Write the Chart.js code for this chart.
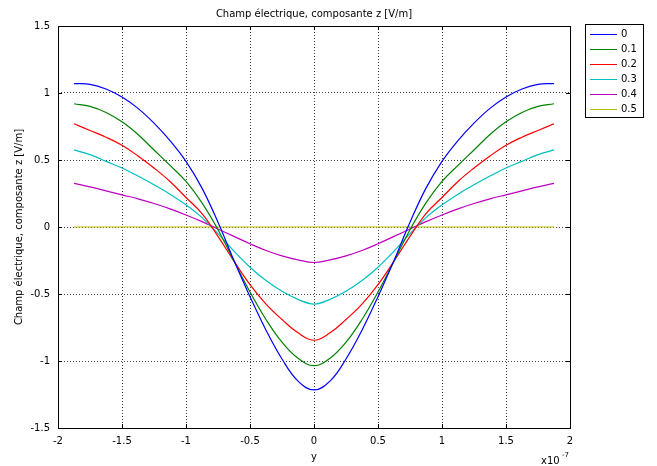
<!DOCTYPE html>
<html>
<head>
<meta charset="utf-8">
<script src="https://cdn.jsdelivr.net/npm/chart.js@4"></script>
<style>
  html, body { margin: 0; padding: 0; background: #fff; }
</style>
</head>
<body>
<canvas id="chartCanvas" width="657" height="466"></canvas>
<script>
// positions y (x10^-7)
const yPos = [-1.875, -1.75, -1.625, -1.5, -1.375, -1.25, -1.125, -1, -0.875, -0.75, -0.625, -0.5, -0.375, -0.25, -0.125, 0,
              0.125, 0.25, 0.375, 0.5, 0.625, 0.75, 0.875, 1, 1.125, 1.25, 1.375, 1.5, 1.625, 1.75, 1.875];

const ez0  = [1.07, 1.065, 1.03, 0.97, 0.885, 0.775, 0.645, 0.49, 0.29, 0.035, -0.25, -0.52, -0.77, -0.985, -1.15, -1.216,
              -1.15, -0.985, -0.77, -0.52, -0.25, 0.035, 0.29, 0.49, 0.645, 0.775, 0.885, 0.97, 1.03, 1.065, 1.07];
const ez01 = [0.92, 0.90, 0.855, 0.785, 0.69, 0.575, 0.46, 0.34, 0.18, -0.02, -0.255, -0.485, -0.69, -0.86, -0.98, -1.035,
              -0.98, -0.86, -0.69, -0.485, -0.255, -0.02, 0.18, 0.34, 0.46, 0.575, 0.69, 0.785, 0.855, 0.90, 0.92];
const ez02 = [0.77, 0.72, 0.67, 0.61, 0.53, 0.44, 0.34, 0.22, 0.10, -0.07, -0.255, -0.43, -0.575, -0.69, -0.79, -0.845,
              -0.79, -0.69, -0.575, -0.43, -0.255, -0.07, 0.10, 0.22, 0.34, 0.44, 0.53, 0.61, 0.67, 0.72, 0.77];
const ez03 = [0.575, 0.54, 0.49, 0.44, 0.38, 0.315, 0.245, 0.165, 0.07, -0.05, -0.18, -0.30, -0.40, -0.48, -0.54, -0.575,
              -0.54, -0.48, -0.40, -0.30, -0.18, -0.05, 0.07, 0.165, 0.245, 0.315, 0.38, 0.44, 0.49, 0.54, 0.575];
const ez04 = [0.325, 0.30, 0.27, 0.24, 0.21, 0.175, 0.135, 0.09, 0.04, -0.015, -0.07, -0.125, -0.175, -0.215, -0.245, -0.265,
              -0.245, -0.215, -0.175, -0.125, -0.07, -0.015, 0.04, 0.09, 0.135, 0.175, 0.21, 0.24, 0.27, 0.30, 0.325];
const ez05 = [0, 0, 0, 0, 0, 0, 0, 0, 0, 0, 0, 0, 0, 0, 0, 0,
              0, 0, 0, 0, 0, 0, 0, 0, 0, 0, 0, 0, 0, 0, 0];

const seriesLabels = ["0", "0.1", "0.2", "0.3", "0.4", "0.5"];
const seriesValues = [ez0, ez01, ez02, ez03, ez04, ez05];
const seriesColors = ["#0000ff", "#008000", "#ff0000", "#00bfbf", "#bf00bf", "#bfbf00"];

const xTicks = [-2, -1.5, -1, -0.5, 0, 0.5, 1, 1.5, 2];
const yTicks = [-1.5, -1, -0.5, 0, 0.5, 1, 1.5];

const FONT = "DejaVu Sans, Verdana, sans-serif";

// cadre, titres et legende a la maniere de l'original
const decorPlugin = {
    id: "decor",
    afterDraw(chart) {
        const ctx = chart.ctx;
        const a = chart.chartArea;
        const sx = chart.scales.x, sy = chart.scales.y;
        ctx.save();
        ctx.strokeStyle = "#000";
        ctx.lineWidth = 1;
        ctx.setLineDash([]);
        ctx.strokeRect(Math.round(a.left) + 0.5, Math.round(a.top) + 0.5,
                       Math.round(a.right - a.left), Math.round(a.bottom - a.top));

        // petites graduations internes
        ctx.beginPath();
        xTicks.forEach(v => {
            const px = Math.round(sx.getPixelForValue(v)) + 0.5;
            ctx.moveTo(px, a.top); ctx.lineTo(px, a.top + 4);
            ctx.moveTo(px, a.bottom); ctx.lineTo(px, a.bottom - 4);
        });
        yTicks.forEach(v => {
            const py = Math.round(sy.getPixelForValue(v)) + 0.5;
            ctx.moveTo(a.left, py); ctx.lineTo(a.left + 4, py);
            ctx.moveTo(a.right, py); ctx.lineTo(a.right - 4, py);
        });
        ctx.stroke();

        ctx.fillStyle = "#000";
        ctx.font = "10px " + FONT;
        ctx.textAlign = "center";
        ctx.textBaseline = "middle";
        ctx.fillText("Champ électrique, composante z [V/m]", (a.left + a.right) / 2, 14);
        ctx.fillText("y", (a.left + a.right) / 2, 457);

        ctx.textAlign = "left";
        ctx.fillText("x10", 541, 461);
        ctx.font = "7px " + FONT;
        ctx.fillText("-7", 562, 455);

        ctx.font = "10px " + FONT;
        ctx.translate(19, (a.top + a.bottom) / 2);
        ctx.rotate(-Math.PI / 2);
        ctx.textAlign = "center";
        ctx.fillText("Champ électrique, composante z [V/m]", 0, 0);
        ctx.restore();

        // legende
        ctx.save();
        const lx = 585, ly = 24, lw = 58, lh = 93;
        ctx.fillStyle = "#fff";
        ctx.fillRect(lx, ly, lw, lh);
        ctx.strokeStyle = "#000";
        ctx.lineWidth = 1;
        ctx.strokeRect(lx + 0.5, ly + 0.5, lw, lh);
        ctx.font = "10px " + FONT;
        ctx.textBaseline = "middle";
        ctx.textAlign = "left";
        chart.data.datasets.forEach((ds, i) => {
            const ry = 34.5 + i * 15;
            ctx.strokeStyle = ds.borderColor;
            ctx.beginPath();
            ctx.moveTo(590, ry); ctx.lineTo(617, ry);
            ctx.stroke();
            ctx.fillStyle = "#000";
            ctx.fillText(ds.label, 621, ry);
        });
        ctx.restore();
    }
};

const ctx = document.getElementById("chartCanvas").getContext("2d");
new Chart(ctx, {
    type: "line",
    data: {
        datasets: seriesLabels.map((lab, i) => ({
            label: lab,
            data: yPos.map((x, k) => ({ x: x, y: seriesValues[i][k] })),
            borderColor: seriesColors[i],
            borderWidth: 1.2,
            pointRadius: 0,
            tension: 0.4,
            fill: false
        }))
    },
    options: {
        responsive: false,
        animation: false,
        layout: { padding: { left: 0, right: 87, top: 26, bottom: 0 } },
        plugins: {
            legend: { display: false },
            title: { display: false },
            tooltip: { enabled: false }
        },
        scales: {
            x: {
                type: "linear",
                min: -2, max: 2,
                afterBuildTicks: s => { s.ticks = xTicks.map(v => ({ value: v })); },
                afterFit: s => { s.height = 38; },
                ticks: { color: "#000", font: { size: 10, family: FONT }, padding: 7, maxRotation: 0,
                         callback: v => String(v) },
                grid: { color: "#444", drawTicks: false },
                border: { display: false, dash: [1, 2] }
            },
            y: {
                type: "linear",
                min: -1.5, max: 1.5,
                afterBuildTicks: s => { s.ticks = yTicks.map(v => ({ value: v })); },
                afterFit: s => { s.width = 58; },
                ticks: { color: "#000", font: { size: 10, family: FONT }, padding: 8,
                         callback: v => String(v) },
                grid: { color: "#444", drawTicks: false },
                border: { display: false, dash: [1, 2] }
            }
        }
    },
    plugins: [decorPlugin]
});
</script>
</body>
</html>
